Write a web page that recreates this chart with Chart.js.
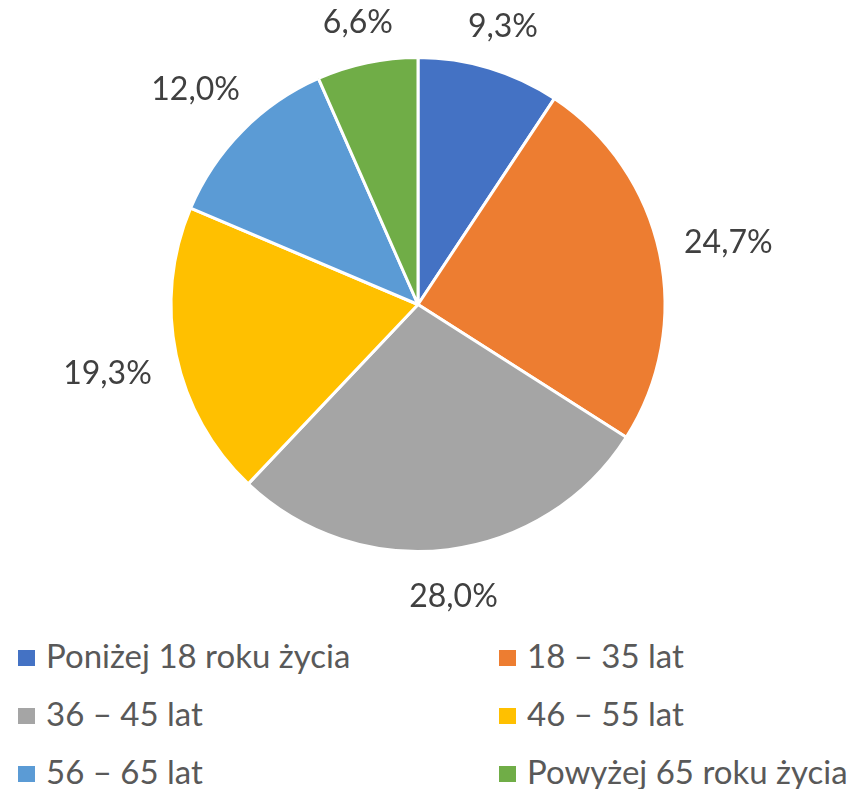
<!DOCTYPE html>
<html>
<head>
<meta charset="utf-8">
<script src="https://cdn.jsdelivr.net/npm/chart.js@4/dist/chart.umd.min.js"></script>
<style>
  body { margin: 0; background: #fff; font-family: Lato, "Open Sans", sans-serif; }
  #wrap { position: relative; width: 866px; height: 620px; }
  #legend { position: absolute; left: 0; top: 635px; width: 866px; }
  .item { position: absolute; color: #595959; font-size: 33px; line-height: 40px; white-space: nowrap; }
  .item span.box { display: inline-block; width: 17px; height: 16px; margin-right: 11px; vertical-align: 2px; }
</style>
</head>
<body>
<div id="wrap"><canvas id="pie"></canvas></div>
<div id="legend"></div>
<script>
var ageGroups = ['Poniżej 18 roku życia', '18 – 35 lat', '36 – 45 lat', '46 – 55 lat', '56 – 65 lat', 'Powyżej 65 roku życia'];
var shares = [9.3, 24.7, 28.0, 19.3, 12.0, 6.6];
var sliceColors = ['#4472C4', '#ED7D31', '#A5A5A5', '#FFC000', '#5B9BD5', '#70AD47'];

function fmt(v) {
    return v.toFixed(1).replace('.', ',') + '%';
}

// percentage labels outside each slice
var outsideLabels = {
    id: 'outsideLabels',
    afterDatasetsDraw: function(chart) {
        var ctx = chart.ctx;
        var meta = chart.getDatasetMeta(0);
        ctx.save();
        ctx.font = '32px Lato, "Open Sans", sans-serif';
        ctx.fillStyle = '#404040';
        ctx.textAlign = 'center';
        ctx.textBaseline = 'middle';
        meta.data.forEach(function(arc, i) {
            var p = arc.getProps(['x', 'y', 'startAngle', 'endAngle', 'outerRadius'], true);
            var mid = (p.startAngle + p.endAngle) / 2;
            var text = fmt(shares[i]);
            var w = ctx.measureText(text).width;
            var cx = Math.cos(mid), cy = Math.sin(mid);
            var ext = Math.abs(cx) * w / 2 + Math.abs(cy) * 14;
            var d = p.outerRadius + ext + 24;
            ctx.fillText(text, p.x + cx * d, p.y + cy * d + 4);
        });
        ctx.restore();
    }
};

var piectx = document.getElementById('pie').getContext('2d');
var piechart = new Chart(piectx, {
    type: 'pie',
    data: {
        labels: ageGroups,
        datasets: [{
            data: shares,
            backgroundColor: sliceColors,
            borderColor: '#ffffff',
            borderWidth: 3
        }]
    },
    options: {
        responsive: true,
        maintainAspectRatio: false,
        animation: false,
        layout: { padding: { top: 56, bottom: 67, left: 0, right: 30 } },
        plugins: {
            legend: { display: false },
            tooltip: { enabled: false }
        }
    },
    plugins: [outsideLabels]
});

// legend in two columns
var legend = document.getElementById('legend');
ageGroups.forEach(function(name, i) {
    var el = document.createElement('div');
    el.className = 'item';
    el.style.left = (i % 2 === 0 ? 18 : 499) + 'px';
    el.style.top = (Math.floor(i / 2) * 58) + 'px';
    el.innerHTML = '<span class="box" style="background:' + sliceColors[i] + '"></span>' + name;
    legend.appendChild(el);
});
</script>
</body>
</html>
